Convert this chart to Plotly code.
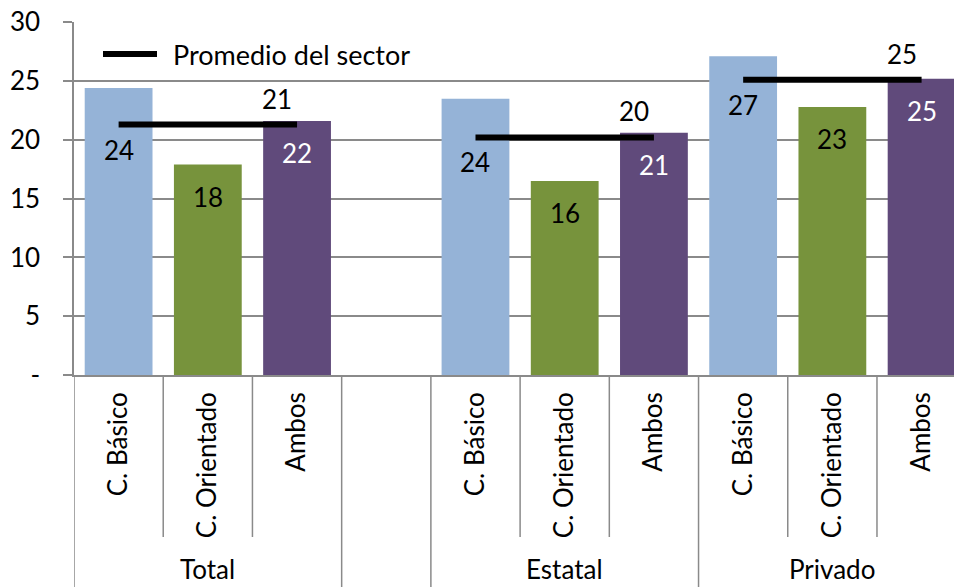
import plotly.graph_objects as go

# ---- data ----
groups = ["Total", "", "Estatal", "Privado"]
subcats = ["C. Básico", "C. Orientado", "Ambos"]
values_total = [24.4, 17.9, 21.6]
values_estatal = [23.5, 16.5, 20.6]
values_privado = [27.1, 22.8, 25.2]
sector_avg = [21.3, 20.2, 25.1]          # Total, Estatal, Privado
y_ticks = [0, 5, 10, 15, 20, 25, 30]
y_ticktext = ["-", "5", "10", "15", "20", "25", "30"]
legend_name = "Promedio del sector"

bar_colors = {"C. Básico": "#95B3D7", "C. Orientado": "#77933C", "Ambos": "#604A7B"}
label_colors = {"C. Básico": "#000000", "C. Orientado": "#000000", "Ambos": "#FFFFFF"}
FONT = "Lato, Carlito, Calibri, sans-serif"
GRID = "#8a8a8a"
FS = 26

# plot area geometry
PW, PH = 880, 353

group_values = {"Total": values_total, "Estatal": values_estatal, "Privado": values_privado}
group_avg = {"Total": sector_avg[0], "Estatal": sector_avg[1], "Privado": sector_avg[2]}

# build positions
xs, ys, names, grp_of = [], [], [], []
group_span = {}
pos = 0
for g in groups:
    start = pos
    if g in group_values:
        for s, v in zip(subcats, group_values[g]):
            xs.append(pos); ys.append(v); names.append(s); grp_of.append(g)
            pos += 1
    else:
        pos += 1
    group_span[g] = (start, pos - 1)

fig = go.Figure()
fig.add_trace(go.Bar(
    x=xs, y=ys, width=0.76,
    marker=dict(color=[bar_colors[n] for n in names], line=dict(width=0)),
    showlegend=False, hoverinfo="skip",
))

# sector average lines
lx, ly = [], []
for g in groups:
    if g in group_avg:
        a, b = group_span[g]
        lx += [a, b, None]; ly += [group_avg[g], group_avg[g], None]
fig.add_trace(go.Scatter(
    x=lx, y=ly, mode="lines", name=legend_name,
    line=dict(color="black", width=6), showlegend=False, hoverinfo="skip",
))

annotations = []
# bar value labels
for x, v, n, g in zip(xs, ys, names, grp_of):
    if n == "C. Básico":
        yy, sh = group_avg[g], -25
    else:
        yy, sh = v, -32
    annotations.append(dict(x=x, y=yy, xref="x", yref="y", text=f"{v:.0f}",
                            showarrow=False, yshift=sh, yanchor="middle",
                            font=dict(family=FONT, size=FS, color=label_colors[n])))
# average labels
for g in groups:
    if g in group_avg:
        a, b = group_span[g]
        annotations.append(dict(x=b, y=group_avg[g], xref="x", yref="y",
                                text=f"{group_avg[g]:.0f}", showarrow=False,
                                xshift=-20, yshift=26, yanchor="middle",
                                font=dict(family=FONT, size=FS, color="#000000")))
# group labels
for g in groups:
    a, b = group_span[g]
    if g:
        annotations.append(dict(x=(a + b) / 2, y=-212 / PH, xref="x", yref="paper",
                                text=g, showarrow=False, yanchor="bottom",
                                font=dict(family=FONT, size=FS, color="#000000")))

# legend key (line sample + text)
annotations.append(dict(x=(171 - 74) / PW, y=(375 - 54) / PH, xref="paper", yref="paper",
                        text=legend_name, showarrow=False, xanchor="left", yanchor="middle",
                        font=dict(family=FONT, size=27, color="#000000")))

# dividers
shapes = []
for g in groups:
    a, b = group_span[g]
    shapes.append(dict(type="line", xref="x", yref="paper", x0=a - 0.5, x1=a - 0.5,
                       y0=0, y1=-0.7, line=dict(color=GRID, width=1.5)))
    if g:
        for k in range(a + 1, b + 1):
            shapes.append(dict(type="line", xref="x", yref="paper", x0=k - 0.5, x1=k - 0.5,
                               y0=0, y1=-162 / PH, line=dict(color=GRID, width=1.5)))
shapes.append(dict(type="line", xref="paper", yref="paper",
                   x0=(103 - 74) / PW, x1=(157 - 74) / PW,
                   y0=(375 - 54) / PH, y1=(375 - 54) / PH,
                   line=dict(color="black", width=6)))

fig.update_layout(
    width=954, height=587,
    margin=dict(l=74, r=0, t=22, b=212, autoexpand=False),
    paper_bgcolor="white", plot_bgcolor="white",
    font=dict(family=FONT, size=FS, color="#000000"),
    showlegend=False,
    annotations=annotations, shapes=shapes,
    barmode="overlay",
)
fig.update_xaxes(
    range=[-0.5, -0.5 + PW / 89.22], tickmode="array",
    tickvals=xs, ticktext=names, tickangle=-90, ticks="",
    showline=True, linecolor=GRID, linewidth=1.5, showgrid=False, zeroline=False,
    tickfont=dict(family=FONT, size=FS), fixedrange=True, automargin=False,
    ticklabelstandoff=5,
)
fig.update_yaxes(
    range=[0, 30.02], tickmode="array", tickvals=y_ticks, ticktext=y_ticktext,
    ticks="outside", ticklen=9, tickcolor=GRID, tickwidth=1.5,
    showline=True, linecolor=GRID, linewidth=1.5,
    showgrid=True, gridcolor=GRID, gridwidth=1.5, zeroline=False,
    ticklabelstandoff=18, ticklabeloverflow="allow",
    tickfont=dict(family=FONT, size=FS), automargin=False,
)

fig.write_html("out.html", config={"displayModeBar": False},
               post_script="document.body.style.margin='0px'; document.body.style.overflow='hidden';")
